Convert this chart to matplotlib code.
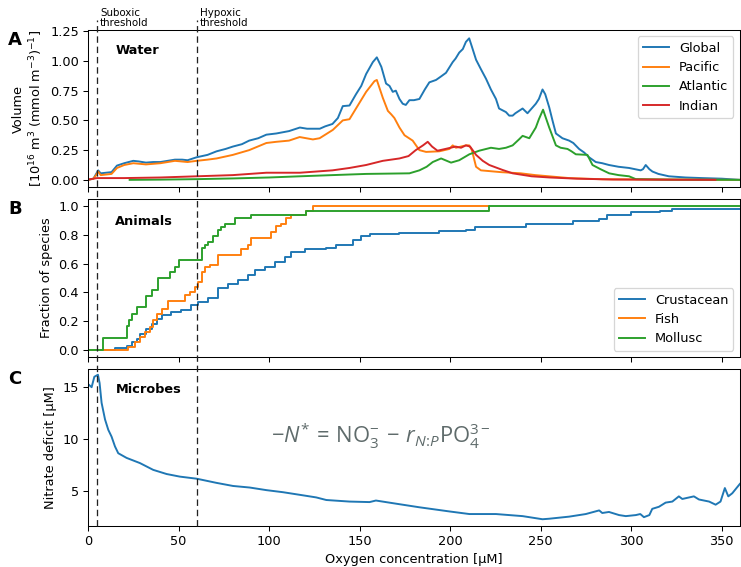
import numpy as np
import matplotlib
matplotlib.use("Agg")
import matplotlib.pyplot as plt
from matplotlib.lines import Line2D
import matplotlib.transforms as mtransforms

# ---------------- Data ----------------
# Panel A: water volume per oxygen concentration
global_x = [0, 3, 4.5, 5.6, 7, 10, 13, 16, 20, 25, 28, 32, 36, 40, 44, 48, 52, 55, 60, 66, 71, 76, 80, 85, 89, 94,
            98.5, 104, 111, 117, 121, 128, 131, 135, 138, 140.7, 144.4, 148, 150.9, 153.6, 157.3, 159.5, 162, 164.6,
            166.5, 168.3, 170, 172, 173.8, 175.5, 177.5, 180, 183, 186, 188.5, 192.2, 195, 197.7, 201.4, 203, 205,
            207, 208.7, 210.5, 212, 214.3, 217, 219.8, 222.5, 225.3, 227, 230.8, 232.6, 234.5, 236, 238, 240, 242.7,
            245, 247.3, 249, 251, 252.5, 254.7, 256.5, 258.4, 262, 265.7, 268, 271.2, 274, 276.7, 280.4, 284, 287.7,
            293, 298.8, 302, 305.2, 306.5, 308, 310, 311.7, 315, 320.8, 330, 339, 350, 360]
global_y = [0.0, 0.01, 0.05, 0.08, 0.055, 0.06, 0.065, 0.12, 0.14, 0.16, 0.155, 0.145, 0.15, 0.15, 0.16, 0.17, 0.17,
            0.165, 0.19, 0.21, 0.24, 0.26, 0.28, 0.30, 0.33, 0.35, 0.38, 0.39, 0.41, 0.44, 0.43, 0.43, 0.45, 0.47,
            0.52, 0.62, 0.625, 0.72, 0.79, 0.89, 0.99, 1.03, 0.95, 0.81, 0.79, 0.74, 0.75, 0.68, 0.64, 0.63, 0.67,
            0.67, 0.68, 0.76, 0.82, 0.84, 0.87, 0.90, 0.99, 1.02, 1.07, 1.10, 1.16, 1.19, 1.12, 1.01, 0.93, 0.85,
            0.76, 0.68, 0.60, 0.57, 0.54, 0.54, 0.56, 0.58, 0.60, 0.56, 0.60, 0.64, 0.68, 0.76, 0.72, 0.61, 0.50,
            0.39, 0.35, 0.33, 0.31, 0.26, 0.23, 0.19, 0.15, 0.14, 0.125, 0.11, 0.10, 0.09, 0.08, 0.09, 0.125, 0.09,
            0.07, 0.05, 0.03, 0.02, 0.015, 0.01, 0.0]

pacific_x = [0, 3, 4.5, 5.6, 7, 10, 13, 16, 20, 25, 32, 40, 48, 55, 60, 66, 71, 80, 89, 98.5, 104, 111, 116.9, 124.2,
             127.9, 135.2, 140.7, 144.4, 150, 153.6, 158.2, 159.5, 162.8, 165.6, 167.5, 169.2, 172, 174.8, 179.3,
             183, 186.7, 194, 199.6, 201.4, 203.2, 208.7, 210.5, 212, 214.3, 217, 228, 239, 247, 265.7, 284, 360]
pacific_y = [0.0, 0.01, 0.04, 0.07, 0.04, 0.045, 0.05, 0.10, 0.125, 0.14, 0.13, 0.14, 0.16, 0.15, 0.16, 0.17, 0.18,
             0.21, 0.25, 0.31, 0.32, 0.33, 0.36, 0.34, 0.35, 0.42, 0.50, 0.51, 0.65, 0.74, 0.83, 0.84, 0.69, 0.58,
             0.55, 0.52, 0.44, 0.375, 0.33, 0.25, 0.235, 0.24, 0.26, 0.29, 0.27, 0.29, 0.29, 0.25, 0.11, 0.08,
             0.065, 0.055, 0.04, 0.015, 0.005, 0.0]

atlantic_x = [23, 40, 60, 80, 100, 117, 135, 153.6, 177.5, 183, 187, 190.4, 195, 200.5, 205, 210.6, 216, 222.5, 227,
              230.8, 234.5, 238, 240, 243.7, 247.3, 249, 251.3, 254.7, 258.4, 261, 264.8, 267, 269.4, 275.8, 278.6,
              283, 287.8, 293, 298.8, 302.5, 320, 360]
atlantic_y = [0.0, 0.002, 0.006, 0.012, 0.02, 0.03, 0.04, 0.05, 0.055, 0.08, 0.11, 0.15, 0.18, 0.145, 0.165, 0.215,
              0.245, 0.27, 0.26, 0.27, 0.29, 0.34, 0.37, 0.35, 0.44, 0.51, 0.59, 0.44, 0.29, 0.27, 0.26, 0.24, 0.215,
              0.21, 0.125, 0.09, 0.055, 0.04, 0.03, 0.006, 0.002, 0.0]

indian_x = [1, 3, 5, 20, 40, 60, 80, 98.5, 117, 135, 144.4, 153.6, 162.8, 172, 177, 181, 185, 187.6, 190, 193, 197.4,
            203, 206, 208.7, 211, 214.3, 218, 221.6, 229, 234.5, 245, 255, 270, 290, 346.5]
indian_y = [0.005, 0.01, 0.015, 0.015, 0.02, 0.03, 0.04, 0.06, 0.06, 0.08, 0.10, 0.125, 0.16, 0.18, 0.20, 0.25, 0.29,
            0.32, 0.28, 0.245, 0.26, 0.28, 0.27, 0.29, 0.28, 0.21, 0.16, 0.125, 0.083, 0.055, 0.03, 0.02, 0.01,
            0.003, 0.0]

# Panel B: cumulative fraction of species (step curves)
crust_x = [0, 14.9, 21.3, 24.1, 26.8, 28.7, 32.3, 35.1, 37.9, 40.6, 46.1, 51.6, 57.1, 60.8, 66.4, 71.8, 77.4, 82.9,
           88.4, 92.1, 97.6, 103.1, 108.6, 112.3, 119.6, 131.6, 137.1, 146.3, 151, 155.5, 172, 194, 208.8, 213.5,
           241.8, 267.6, 282, 286.8, 299.7, 316, 322.7, 360]
crust_y = [0.0, 0.01, 0.025, 0.053, 0.077, 0.11, 0.147, 0.18, 0.217, 0.24, 0.264, 0.276, 0.31, 0.334, 0.357, 0.428,
           0.456, 0.486, 0.52, 0.556, 0.58, 0.614, 0.65, 0.684, 0.70, 0.71, 0.73, 0.766, 0.79, 0.805, 0.815, 0.825,
           0.835, 0.855, 0.875, 0.90, 0.91, 0.94, 0.96, 0.97, 0.985, 0.985]

fish_x = [0, 22.2, 25.9, 28.7, 31.4, 34.2, 36, 37.9, 40.6, 44.3, 53.5, 56.2, 59, 60.8, 62.7, 64.5, 67.3, 71.8, 84.7,
          88.4, 90.2, 101.3, 104, 106.8, 109.5, 112.3, 120.6, 124.2, 221.6]
fish_y = [0.0, 0.02, 0.05, 0.09, 0.12, 0.16, 0.21, 0.25, 0.28, 0.34, 0.38, 0.40, 0.44, 0.47, 0.54, 0.58, 0.59, 0.66,
          0.70, 0.73, 0.78, 0.82, 0.86, 0.88, 0.92, 0.94, 0.97, 1.0, 1.0]

mollusc_x = [0, 8.4, 21.3, 22.5, 24.1, 26.8, 32.3, 35.1, 38.8, 45.2, 48, 50, 62.7, 64.5, 66.5, 69.1, 71.8, 73.7, 75.5,
             81, 90.2, 120.6, 221.6, 360]
mollusc_y = [0.0, 0.083, 0.167, 0.208, 0.25, 0.30, 0.375, 0.417, 0.50, 0.54, 0.58, 0.625, 0.708, 0.729, 0.75, 0.79,
             0.833, 0.854, 0.875, 0.917, 0.938, 0.97, 1.0, 1.0]

# Panel C: nitrate deficit
nitrate_x = [0.7, 2, 3.5, 5.5, 6.4, 7.5, 9.4, 11.2, 13, 14.9, 16.7, 21.3, 28.7, 36, 43.4, 50.7, 60, 70.9, 80.1, 89.3,
             98.5, 107.7, 116.9, 126, 131.6, 144.4, 155.5, 159, 170, 183, 199.6, 210.6, 225.3, 240, 251, 254.7,
             265.7, 274.9, 282.3, 284, 287.7, 293.3, 297, 302.5, 305, 307, 310, 311.6, 315.3, 319, 322.7, 326.3,
             328.2, 334.6, 337.4, 343, 346.6, 349.3, 351.7, 353.6, 355.8, 360]
nitrate_y = [15.2, 15.0, 16.0, 16.2, 15.4, 13.5, 11.9, 10.9, 10.25, 9.3, 8.65, 8.2, 7.7, 7.05, 6.65, 6.4, 6.2, 5.8,
             5.5, 5.35, 5.1, 4.9, 4.65, 4.4, 4.15, 4.0, 3.95, 4.1, 3.8, 3.45, 3.05, 2.8, 2.8, 2.6, 2.3, 2.35, 2.55,
             2.8, 3.15, 2.9, 3.0, 2.7, 2.6, 2.7, 2.8, 2.5, 2.7, 3.3, 3.5, 3.9, 4.0, 4.5, 4.25, 4.5, 4.2, 4.0, 3.7,
             4.0, 5.3, 4.5, 4.8, 5.7]

thresholds = [5, 60]
threshold_labels = ["Suboxic\nthreshold", "Hypoxic\nthreshold"]
xticks = [0, 50, 100, 150, 200, 250, 300, 350]

# ---------------- Figure ----------------
plt.rcParams['font.family'] = ['DejaVu Sans']
plt.rcParams['mathtext.rm'] = 'Open Sans'
plt.rcParams['mathtext.it'] = 'Open Sans:italic'
plt.rcParams['mathtext.bf'] = 'Open Sans:bold'

c_blue, c_orange, c_green, c_red = '#1f77b4', '#ff7f0e', '#2ca02c', '#d62728'
lw = 1.5
DPI = 92.625
fig = plt.figure(figsize=(741 / DPI, 567 / DPI), dpi=DPI)
left, right = 88 / 741, 0.9985
axA = fig.add_axes([left, 1 - 187 / 567, right - left, 157 / 567])
axB = fig.add_axes([left, 1 - 357 / 567, right - left, 158 / 567], sharex=axA)
axC = fig.add_axes([left, 1 - 526 / 567, right - left, 157 / 567], sharex=axA)

# Panel A
axA.plot(global_x, global_y, color=c_blue, lw=lw, label='Global')
axA.plot(pacific_x, pacific_y, color=c_orange, lw=lw, label='Pacific')
axA.plot(atlantic_x, atlantic_y, color=c_green, lw=lw, label='Atlantic')
axA.plot(indian_x, indian_y, color=c_red, lw=lw, label='Indian')
axA.set_ylim(-0.06, 1.26)
axA.set_yticks([0, 0.25, 0.5, 0.75, 1.0, 1.25])
axA.set_ylabel('Volume\n[10$^{16}$ m$^3$ (mmol m$^{-3}$)$^{-1}$]', fontsize=10)
axA.legend(loc='upper right', fontsize=10)
axA.text(0.042, 0.91, 'Water', transform=axA.transAxes, fontweight='bold', fontsize=10, va='top')

# Panel B
axB.plot(crust_x, crust_y, color=c_blue, lw=lw, drawstyle='steps-post', label='Crustacean')
axB.plot(fish_x, fish_y, color=c_orange, lw=lw, drawstyle='steps-post', label='Fish')
axB.plot(mollusc_x, mollusc_y, color=c_green, lw=lw, drawstyle='steps-post', label='Mollusc')
axB.set_ylim(-0.052, 1.052)
axB.set_yticks([0, 0.2, 0.4, 0.6, 0.8, 1.0])
axB.set_ylabel('Fraction of species', fontsize=10)
axB.legend(loc='lower right', fontsize=10)
axB.text(0.042, 0.90, 'Animals', transform=axB.transAxes, fontweight='bold', fontsize=10, va='top')

# Panel C
axC.plot(nitrate_x, nitrate_y, color=c_blue, lw=lw)
axC.set_ylim(1.65, 16.75)
axC.set_yticks([5, 10, 15])
axC.set_ylabel('Nitrate deficit [µM]', fontsize=10)
axC.set_xlabel('Oxygen concentration [µM]', fontsize=10)
axC.text(0.042, 0.91, 'Microbes', transform=axC.transAxes, fontweight='bold', fontsize=10, va='top')
axC.text(0.449, 0.57, r'$-N^{*}\,=\,\mathrm{NO}_3^{-}\,-\,r_{N\!:\!P}\mathrm{PO}_4^{3-}$',
         transform=axC.transAxes, fontsize=17, color='#5f6b6b', ha='center', va='center',
         math_fontfamily='custom')

axC.set_xlim(0, 360)
axC.set_xticks(xticks)
for ax in (axA, axB, axC):
    ax.tick_params(labelsize=10)
for ax in (axA, axB):
    ax.tick_params(labelbottom=False)

# Threshold dashed lines spanning all panels
trans = mtransforms.blended_transform_factory(axC.transData, fig.transFigure)
for t, lab in zip(thresholds, threshold_labels):
    fig.add_artist(Line2D([t, t], [1 - 526 / 567, 1 - 20 / 567], transform=trans,
                          color='#222222', lw=1.0, ls=(0, (5, 3))))
    fig.text(t + 1.6, 1 - 28 / 567, lab, transform=trans, fontsize=8, va='bottom', ha='left',
             linespacing=1.0)

# Panel letters
for ax, letter in zip((axA, axB, axC), 'ABC'):
    pos = ax.get_position()
    fig.text(0.011, pos.y1 - 0.001, letter, fontsize=14, fontweight='bold', va='top', ha='left')

fig.savefig('out.png', dpi=DPI)
